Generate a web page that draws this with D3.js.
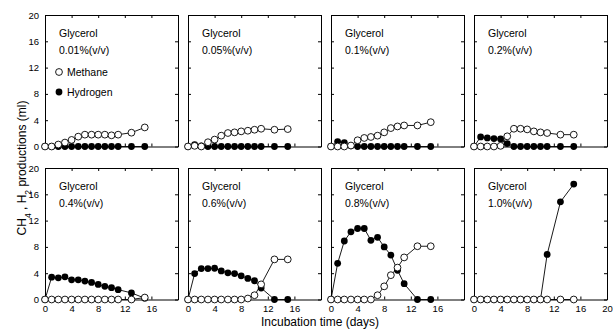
<!DOCTYPE html>
<html>
<head>
<meta charset="utf-8">
<script src="https://cdn.jsdelivr.net/npm/d3@7"></script>
<style>
  body { margin: 0; background: #fff; }
  svg { font-family: "Liberation Sans", Arial, sans-serif; }
  .axis path, .axis line { stroke: #000; stroke-width: 1; }
  .axis text { font-size: 9.5px; fill: #000; }
</style>
</head>
<body>
<div id="chart"></div>
<script>
// incubation days sampled
const days = [0, 1, 2, 3, 4, 5, 6, 7, 8, 9, 10, 11, 13, 15];
const concentrations = ["0.01%(v/v)", "0.05%(v/v)", "0.1%(v/v)", "0.2%(v/v)",
                        "0.4%(v/v)", "0.6%(v/v)", "0.8%(v/v)", "1.0%(v/v)"];
const xTicks = [0, 4, 8, 12, 16, 20];
const yTicks = [0, 4, 8, 12, 16, 20];

// CH4 (ml), one row per panel
const methane = [
  [0, 0, 0.3, 0.6, 1.0, 1.5, 1.8, 1.8, 1.8, 1.8, 1.7, 1.8, 2.1, 2.9],
  [0, 0.1, 0, 0.65, 1.05, 1.65, 2.05, 2.15, 2.3, 2.4, 2.55, 2.7, 2.55, 2.65],
  [0, 0, 0, 0.15, 0.95, 1.3, 1.45, 1.65, 2.15, 2.8, 3.05, 3.2, 3.2, 3.7],
  [0, 0, 0, 0, 0.1, 1.55, 2.7, 2.7, 2.6, 2.3, 2.15, 2.05, 1.8, 1.8],
  [0, 0, 0, 0, 0, 0, 0, 0, 0, 0, 0, 0, 0, 0.3],
  [0, 0, 0, 0, 0, 0, 0, 0, 0, 0.15, 0.65, 2.3, 6.1, 6.1],
  [0, 0, 0, 0, 0, 0, 0, 0.65, 2.0, 3.7, 4.85, 6.4, 8.1, 8.1],
  [0, 0, 0, 0, 0, 0, 0, 0, 0, 0, 0, 0, 0, 0]
];

// H2 (ml), one row per panel
const hydrogen = [
  [0, 0, 0, 0, 0, 0, 0, 0, 0, 0, 0, 0, 0, 0],
  [0, 0.3, 0.1, 0, 0, 0, 0, 0, 0, 0, 0, 0, 0, 0],
  [0, 0.75, 0.6, 0.1, 0, 0, 0, 0, 0, 0, 0, 0, 0, 0],
  [0, 1.45, 1.3, 1.2, 1.15, 0.45, 0, 0, 0, 0, 0, 0, 0, 0],
  [0, 3.4, 3.3, 3.45, 3.0, 3.0, 2.8, 2.6, 2.3, 2.0, 1.8, 1.5, 1.0, 0.2],
  [0, 3.95, 4.7, 4.7, 4.75, 4.35, 4.05, 3.95, 3.6, 3.2, 2.85, 1.75, 0, 0],
  [0, 5.5, 8.9, 10.3, 10.8, 10.8, 9.0, 9.45, 8.0, 6.75, 4.45, 2.4, 0, 0],
  [0, 0, 0, 0, 0, 0, 0, 0, 0, 0, 0, 6.85, 14.85, 17.55]
];

const width = 613;
const height = 329;
const lefts = [45, 188, 331, 474];
const tops = [15, 168];
const pw = 133;
const ph = 131.5;
const r = 3.4;

const svg = d3.select("#chart")
  .append("svg")
  .attr("width", width)
  .attr("height", height);

concentrations.forEach((conc, i) => {
  const col = i % 4;
  const row = Math.floor(i / 4);
  const x0 = lefts[col];
  const y0 = tops[row];

  const xScale = d3.scaleLinear().domain([0, 20]).range([x0, x0 + pw]);
  const yScale = d3.scaleLinear().domain([0, 20]).range([y0 + ph, y0]);

  const g = svg.append("g").attr("class", "panel");

  // axes, ticks pointing inward on every side
  const bottom = d3.axisBottom(xScale).tickValues(xTicks).tickSizeInner(-3).tickSizeOuter(0).tickPadding(6);
  if (row === 0) bottom.tickFormat("");
  else if (col < 3) bottom.tickFormat(d => d === 20 ? "" : d);
  g.append("g").attr("class", "axis")
    .attr("transform", `translate(0,${y0 + ph})`)
    .call(bottom);

  g.append("g").attr("class", "axis")
    .attr("transform", `translate(0,${y0})`)
    .call(d3.axisTop(xScale).tickValues(xTicks).tickSizeInner(-3).tickSizeOuter(0).tickFormat(""));

  const left = d3.axisLeft(yScale).tickValues(yTicks).tickSizeInner(-3).tickSizeOuter(0).tickPadding(6);
  if (col > 0) left.tickFormat("");
  g.append("g").attr("class", "axis")
    .attr("transform", `translate(${x0},0)`)
    .call(left);

  g.append("g").attr("class", "axis")
    .attr("transform", `translate(${x0 + pw},0)`)
    .call(d3.axisRight(yScale).tickValues(yTicks).tickSizeInner(-3).tickSizeOuter(0).tickFormat(""));

  // label
  const lab = g.append("text")
    .attr("x", x0 + 14)
    .attr("y", y0 + 22)
    .style("font-size", "10.5px");
  lab.append("tspan").attr("x", x0 + 14).text("Glycerol");
  lab.append("tspan").attr("x", x0 + 14).attr("dy", 17).text(conc);

  const line = d3.line()
    .x(d => xScale(d[0]))
    .y(d => yScale(d[1]));

  const h2 = days.map((d, k) => [d, hydrogen[i][k]]);
  const ch4 = days.map((d, k) => [d, methane[i][k]]);

  g.append("path").datum(h2)
    .attr("d", line).attr("fill", "none").attr("stroke", "#000").attr("stroke-width", 0.9);
  g.selectAll(".h2").data(h2).enter().append("circle")
    .attr("class", "h2")
    .attr("cx", d => xScale(d[0]))
    .attr("cy", d => yScale(d[1]))
    .attr("r", r)
    .attr("fill", "#000");

  g.append("path").datum(ch4)
    .attr("d", line).attr("fill", "none").attr("stroke", "#000").attr("stroke-width", 0.9);
  g.selectAll(".ch4").data(ch4).enter().append("circle")
    .attr("class", "ch4")
    .attr("cx", d => xScale(d[0]))
    .attr("cy", d => yScale(d[1]))
    .attr("r", r)
    .attr("fill", "#fff")
    .attr("stroke", "#000")
    .attr("stroke-width", 0.9);

  // legend in first panel
  if (i === 0) {
    g.append("circle").attr("cx", x0 + 14).attr("cy", y0 + 57).attr("r", r)
      .attr("fill", "#fff").attr("stroke", "#000").attr("stroke-width", 0.9);
    g.append("text").attr("x", x0 + 22).attr("y", y0 + 61)
      .style("font-size", "10.5px").text("Methane");
    g.append("circle").attr("cx", x0 + 14).attr("cy", y0 + 77).attr("r", r)
      .attr("fill", "#000");
    g.append("text").attr("x", x0 + 22).attr("y", y0 + 81)
      .style("font-size", "10.5px").text("Hydrogen");
  }
});

// axis titles
svg.append("text")
  .attr("x", 320)
  .attr("y", 326)
  .attr("text-anchor", "middle")
  .style("font-size", "12px")
  .text("Incubation time (days)");

const yl = svg.append("text")
  .attr("transform", "translate(26,168) rotate(-90)")
  .attr("text-anchor", "middle")
  .style("font-size", "12px");
yl.append("tspan").text("CH");
yl.append("tspan").attr("baseline-shift", "sub").style("font-size", "8.5px").text("4");
yl.append("tspan").text(" , H");
yl.append("tspan").attr("baseline-shift", "sub").style("font-size", "8.5px").text("2");
yl.append("tspan").text(" productions (ml)");
</script>
</body>
</html>
